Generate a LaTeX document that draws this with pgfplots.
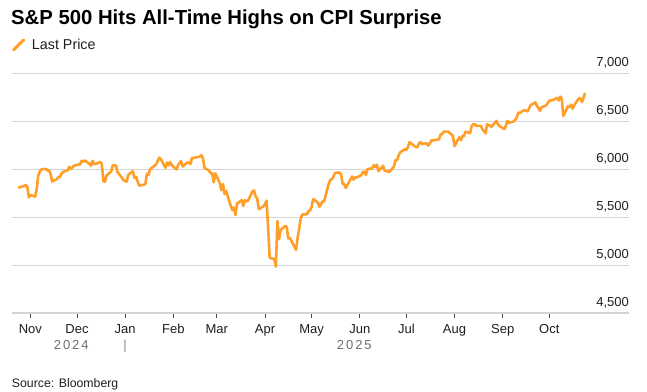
\documentclass[border=0pt]{standalone}
\usepackage{pgfplots}
\pgfplotsset{compat=1.18}
\usepackage{pgfplotstable}
\usepackage{fontspec}
\setmainfont{Liberation Sans}
\definecolor{bbo}{RGB}{255,159,42}
\definecolor{gridc}{RGB}{212,212,212}
\definecolor{txt}{RGB}{30,30,30}
\definecolor{yeargray}{RGB}{110,110,110}

\pgfplotstableread{
day price
-8 5809.86
-7 5808.12
-4 5823.52
-3 5832.92
-2 5813.67
-1 5705.45
0 5728.80
3 5712.69
4 5782.76
5 5929.04
6 5973.10
7 5995.54
10 6001.35
11 5983.99
12 5985.38
13 5949.17
14 5870.62
17 5893.62
18 5916.98
19 5917.11
20 5948.71
21 5969.34
24 5987.37
25 6021.63
26 5998.74
28 6032.38
31 6047.15
32 6049.88
33 6086.49
34 6075.11
35 6090.27
38 6052.85
39 6034.91
40 6084.19
41 6051.25
42 6051.09
45 6074.08
46 6050.61
47 5872.16
48 5867.08
49 5930.85
52 5974.07
53 6040.04
55 6037.59
56 5970.84
59 5906.94
60 5881.63
62 5868.55
63 5942.47
66 5975.38
67 5909.03
68 5918.25
70 5827.04
73 5836.22
74 5842.91
75 5949.91
76 5937.34
77 5996.66
81 6049.24
82 6086.37
83 6118.71
84 6101.24
87 6012.28
88 6067.70
89 6039.31
90 6071.17
91 6040.53
94 5994.57
95 6037.88
96 6061.48
97 6083.57
98 6025.99
101 6066.44
102 6068.50
103 6051.97
104 6115.07
105 6114.63
109 6129.58
110 6144.15
111 6117.52
112 6013.13
115 5983.25
116 5955.25
117 5956.06
118 5861.57
119 5954.50
122 5849.72
123 5778.15
124 5842.63
125 5738.52
126 5770.20
129 5614.56
130 5572.07
131 5599.30
132 5521.52
133 5638.94
136 5675.12
137 5614.66
138 5675.29
139 5662.89
140 5667.56
143 5767.57
144 5776.65
145 5712.20
146 5693.31
147 5580.94
150 5611.85
151 5633.07
152 5670.97
153 5396.52
154 5074.08
157 5062.25
158 4982.77
159 5456.90
160 5268.05
161 5363.36
164 5405.97
165 5396.63
166 5275.70
167 5282.70
171 5158.20
172 5287.76
173 5375.86
174 5484.77
175 5525.21
178 5528.75
179 5560.83
180 5569.06
181 5604.14
182 5686.67
185 5650.38
186 5606.91
187 5631.28
188 5663.94
189 5659.91
192 5844.19
193 5886.55
194 5892.58
195 5916.93
196 5958.38
199 5963.60
200 5940.46
201 5844.61
202 5842.01
203 5802.82
207 5921.54
208 5888.55
209 5912.17
210 5911.69
213 5935.94
214 5970.37
215 5970.81
216 5939.30
217 6000.36
220 6005.88
221 6038.81
222 6022.24
223 6045.26
224 5976.97
227 6033.11
228 5982.72
229 5980.87
231 5967.84
234 6025.17
235 6092.18
236 6092.16
237 6141.02
238 6173.07
241 6204.95
242 6198.01
243 6227.42
244 6279.35
248 6229.98
249 6225.52
250 6263.26
251 6280.46
252 6259.75
255 6268.56
256 6243.76
257 6263.70
258 6297.36
259 6296.79
262 6305.60
263 6309.62
264 6358.91
265 6363.35
266 6388.64
269 6389.77
270 6370.86
271 6362.90
272 6339.39
273 6238.01
276 6329.94
277 6299.19
278 6345.06
279 6340.00
280 6389.45
283 6373.45
284 6445.76
285 6466.58
286 6468.54
287 6449.80
290 6449.15
291 6411.37
292 6395.78
293 6370.17
294 6466.91
297 6439.32
298 6465.94
299 6481.40
300 6501.86
301 6460.26
305 6415.54
306 6448.26
307 6502.08
308 6481.50
311 6495.15
312 6512.61
313 6532.04
314 6587.47
315 6584.29
318 6615.28
319 6606.76
320 6600.35
321 6631.96
322 6664.36
325 6693.75
326 6656.92
327 6637.97
328 6604.72
329 6643.70
332 6661.21
333 6688.46
334 6711.20
335 6715.35
336 6715.79
339 6740.28
340 6714.59
341 6753.72
342 6735.11
343 6552.51
346 6654.72
347 6644.31
348 6671.06
349 6629.07
350 6664.01
353 6735.13
354 6735.35
355 6699.40
356 6738.44
357 6791.69
}\spx

\begin{document}
\begin{tikzpicture}[x=1pt,y=1pt]
\path[use as bounding box] (0,0) rectangle (647,391);
\node[anchor=base west, inner sep=0pt, font=\fontsize{20.3}{23}\selectfont\bfseries, text=black] at (11,366) {S\&P 500 Hits All-Time Highs on CPI Surprise};
\node[anchor=base west, inner sep=0pt, font=\fontsize{12.3}{14}\selectfont, text=txt] at (11.7,3.7) {Source: Bloomberg};
\begin{axis}[
  at={(12pt,78pt)}, anchor=south west,
  scale only axis, width=617pt, height=240pt,
  xmin=-11.84, xmax=385.3, ymin=4500, ymax=7000,
  clip=false,
  axis x line*=bottom, axis y line*=right,
  x axis line style={draw=gridc, line width=1.6pt, -},
  y axis line style={draw=none},
  tick align=outside,
  major tick length=5pt,
  xtick={0,30,61,92,120,151,181,212,242,273,304,334},
  xticklabels={Nov,Dec,Jan,Feb,Mar,Apr,May,Jun,Jul,Aug,Sep,Oct},
  xtick style={draw=black!70, line width=0.8pt},
  ytick={4500,5000,5500,6000,6500,7000},
  ytick style={draw=none},
  ymajorgrids,
  grid style={draw=gridc, line width=0.9pt},
  /pgf/number format/.cd, 1000 sep={,}, assume math mode=true, /pgfplots/.cd,
  yticklabel style={anchor=base east, inner sep=0pt, xshift=-5pt, yshift=6.7pt, font=\fontsize{13}{15}\selectfont, text=txt},
  xticklabel style={anchor=base, inner sep=0pt, yshift=-15pt, font=\fontsize{13}{15}\selectfont, text=txt},
  legend style={at={(0,1)}, anchor=south west, draw=none, fill=none, inner sep=0pt, yshift=20pt, font=\fontsize{14.3}{16}\selectfont, text=txt},
  legend cell align=left,
  legend image code/.code={\draw[line width=3pt, line cap=round, bbo] (0pt,-5pt) -- (10pt,5pt); \path (15pt,0pt);},
]
\addplot[bbo, line width=2.6pt, line join=round] table[x=day, y=price] {\spx};
\addlegendentry{Last Price}
\node[anchor=base, yshift=-36pt, font=\fontsize{13}{15}\selectfont\addfontfeature{LetterSpace=15}, text=yeargray] at (axis cs:26.3,4500) {2024};
\node[anchor=base, yshift=-36pt, font=\fontsize{13}{15}\selectfont\addfontfeature{LetterSpace=15}, text=yeargray] at (axis cs:208.5,4500) {2025};
\node[anchor=base, yshift=-36pt, font=\fontsize{13}{15}\selectfont, text=yeargray!80] at (axis cs:61,4500) {|};
\end{axis}
\end{tikzpicture}
\end{document}
